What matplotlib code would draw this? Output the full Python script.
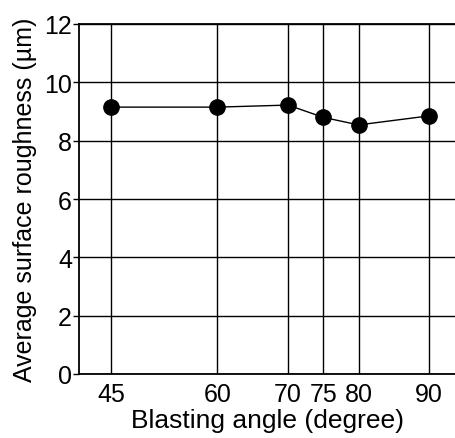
import matplotlib.pyplot as plt

plt.rcParams['font.family'] = ['Liberation Sans', 'DejaVu Sans']

angles = [45, 60, 70, 75, 80, 90]
roughness = [9.15, 9.15, 9.22, 8.8, 8.54, 8.85]
yticks = [0, 2, 4, 6, 8, 10, 12]

fig = plt.figure(figsize=(4.56, 4.39), dpi=100)
ax = fig.add_axes([79 / 456, 64 / 439, 377 / 456, 350 / 439])

ax.plot(angles, roughness, color='black', lw=1, marker='o', ms=11, zorder=3)

ax.set_xlim(40.4, 93.8)
ax.set_ylim(0, 12)
ax.set_xticks(angles)
ax.set_yticks(yticks)
ax.grid(True, color='black', lw=1)
ax.tick_params(axis='y', length=4, width=1, labelsize=18, pad=1)
ax.tick_params(axis='x', length=0, labelsize=18, pad=6)
for s in ['left', 'bottom', 'top']:
    ax.spines[s].set_linewidth(1.3)
ax.spines['right'].set_visible(False)

ax.set_xlabel('Blasting angle (degree)', fontsize=19, labelpad=1)
ax.set_ylabel('Average surface roughness (\u00b5m)', fontsize=18, labelpad=5)

fig.savefig('out.png', dpi=100)
